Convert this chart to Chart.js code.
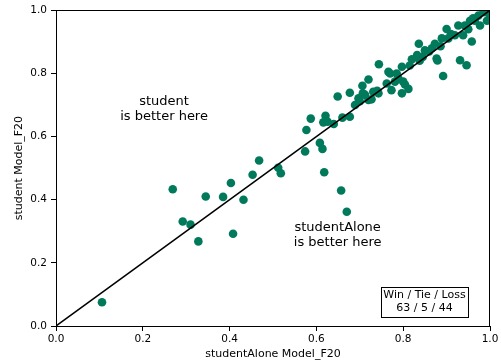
<!DOCTYPE html>
<html>
<head>
<meta charset="utf-8">
<script src="https://cdn.jsdelivr.net/npm/chart.js@4"></script>
<style>
  body { margin: 0; background: #fff; }
  canvas { display: block; }
</style>
</head>
<body>
<canvas id="chart" width="501" height="364"></canvas>
<script>
// Scores of each run: studentAlone (x) against student (y)
const xValues = [
    0.106, 0.269, 0.292, 0.310, 0.328, 0.345, 0.385, 0.403, 0.408, 0.432,
    0.453, 0.468, 0.512, 0.518, 0.574, 0.608, 0.614, 0.618, 0.657, 0.670,
    0.577, 0.587, 0.616, 0.621, 0.626, 0.649, 0.677, 0.677, 0.689, 0.697,
    0.706, 0.707, 0.712, 0.720, 0.720, 0.727, 0.731, 0.744, 0.743, 0.762,
    0.766, 0.770, 0.773, 0.781, 0.789, 0.797, 0.797, 0.800, 0.804, 0.812,
    0.820, 0.832, 0.836, 0.845, 0.850, 0.860, 0.873, 0.877, 0.879, 0.892,
    0.889, 0.900, 0.904, 0.919, 0.927, 0.931, 0.946, 0.938, 0.942, 0.954,
    0.958, 0.965, 0.973, 0.977, 0.985, 0.993, 1.000, 0.998, 0.866, 0.886,
    0.910, 0.950, 0.961, 0.838, 0.815, 0.785, 0.740, 0.700, 0.660, 0.640
];
const yValues = [
    0.075, 0.433, 0.331, 0.321, 0.268, 0.410, 0.409, 0.453, 0.292, 0.400,
    0.479, 0.524, 0.501, 0.484, 0.553, 0.580, 0.561, 0.487, 0.429, 0.362,
    0.621, 0.657, 0.645, 0.666, 0.647, 0.727, 0.663, 0.739, 0.700, 0.721,
    0.761, 0.737, 0.732, 0.716, 0.781, 0.718, 0.742, 0.829, 0.737, 0.768,
    0.805, 0.800, 0.747, 0.774, 0.784, 0.821, 0.737, 0.774, 0.765, 0.751,
    0.845, 0.858, 0.894, 0.852, 0.873, 0.870, 0.894, 0.847, 0.841, 0.792,
    0.911, 0.941, 0.911, 0.921, 0.952, 0.842, 0.826, 0.921, 0.952, 0.967,
    0.901, 0.967, 0.983, 0.952, 0.994, 0.967, 0.980, 1.000, 0.880, 0.886,
    0.925, 0.940, 0.975, 0.840, 0.825, 0.800, 0.745, 0.712, 0.660, 0.640
];

// Diagonal reference line
const diagX = [0, 1];
const diagY = [0, 1];

// Axis ticks
const tickValues = [0.0, 0.2, 0.4, 0.6, 0.8, 1.0];

// Labels
const xTitle = 'studentAlone Model_F20';
const yTitle = 'student Model_F20';
const regionNotes = [
    { x: 0.249, y: 0.687, lines: ['student', 'is better here'] },
    { x: 0.649, y: 0.288, lines: ['studentAlone', 'is better here'] }
];
const scoreLines = ['Win / Tie / Loss', '63 / 5 / 44'];
const scorePos = { x: 0.849, y: 0.077 };

const pointColor = '#017a5c';
const fontFamily = "'DejaVu Sans', sans-serif";

const points = xValues.map((x, i) => ({ x: x, y: yValues[i] }));
const diagonal = diagX.map((x, i) => ({ x: x, y: diagY[i] }));

// Frame, region notes and the win/tie/loss box
const extrasPlugin = {
    id: 'extras',
    afterDraw(chart) {
        const ctx = chart.ctx;
        const area = chart.chartArea;
        const xs = chart.scales.x;
        const ys = chart.scales.y;

        ctx.save();
        ctx.strokeStyle = '#000';
        ctx.lineWidth = 1;
        ctx.strokeRect(Math.round(area.left) + 0.5, Math.round(area.top) + 0.5,
            Math.round(area.right - area.left) - 1, Math.round(area.bottom - area.top));

        ctx.fillStyle = '#000';
        ctx.textAlign = 'center';
        ctx.textBaseline = 'middle';
        ctx.font = '13px ' + fontFamily;
        regionNotes.forEach(note => {
            const cx = xs.getPixelForValue(note.x);
            const cy = ys.getPixelForValue(note.y);
            ctx.fillText(note.lines[0], cx, cy - 7.5);
            ctx.fillText(note.lines[1], cx, cy + 7.5);
        });

        ctx.font = '11px ' + fontFamily;
        const bx = xs.getPixelForValue(scorePos.x);
        const by = ys.getPixelForValue(scorePos.y);
        const w = Math.max(...scoreLines.map(t => ctx.measureText(t).width)) + 5;
        const h = 30;
        ctx.fillStyle = '#fff';
        ctx.fillRect(bx - w / 2, by - h / 2, w, h);
        ctx.strokeRect(Math.round(bx - w / 2) + 0.5, Math.round(by - h / 2) + 0.5, Math.round(w), h);
        ctx.fillStyle = '#000';
        ctx.fillText(scoreLines[0], bx, by - 6.5);
        ctx.fillText(scoreLines[1], bx, by + 6.5);
        ctx.restore();
    }
};

function axisOptions(title, isX) {
    return {
        type: 'linear',
        min: 0,
        max: 1,
        afterBuildTicks: axis => {
            axis.ticks = tickValues.map(v => ({ value: v }));
        },
        afterFit: axis => {
            if (isX) axis.height = 38;
            else axis.width = 56;
        },
        ticks: {
            color: '#000',
            font: { family: fontFamily, size: 10.5 },
            padding: isX ? 2 : 4,
            maxRotation: 0,
            callback: v => Number(v).toFixed(1)
        },
        grid: {
            display: true,
            drawOnChartArea: false,
            drawTicks: true,
            tickLength: 5,
            color: '#000'
        },
        border: { color: '#000', width: 1 },
        title: {
            display: true,
            text: title,
            color: '#000',
            font: { family: fontFamily, size: 11 },
            padding: isX ? { top: 0, bottom: 3 } : { top: 13, bottom: 0 }
        }
    };
}

new Chart(document.getElementById('chart').getContext('2d'), {
    type: 'scatter',
    data: {
        datasets: [
            {
                data: diagonal,
                showLine: true,
                borderColor: '#000',
                borderWidth: 1.5,
                pointRadius: 0,
                fill: false
            },
            {
                data: points,
                backgroundColor: pointColor,
                borderWidth: 0,
                pointRadius: 4.3,
                pointHoverRadius: 4.3
            }
        ]
    },
    options: {
        responsive: false,
        animation: false,
        layout: { padding: { top: 8, right: 11, left: 0, bottom: 0 } },
        scales: {
            x: axisOptions(xTitle, true),
            y: axisOptions(yTitle, false)
        },
        plugins: {
            legend: { display: false },
            tooltip: { enabled: false }
        }
    },
    plugins: [extrasPlugin]
});
</script>
</body>
</html>
